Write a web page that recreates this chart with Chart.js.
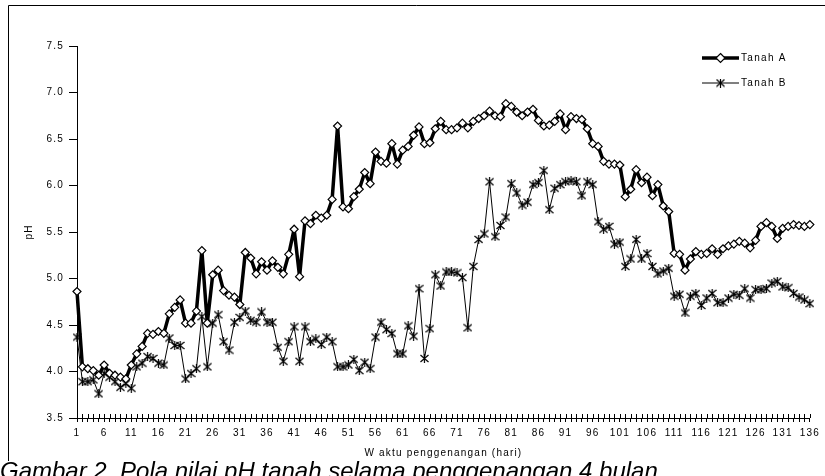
<!DOCTYPE html>
<html>
<head>
<meta charset="utf-8">
<script src="https://cdn.jsdelivr.net/npm/chart.js@4.4.1/dist/chart.umd.min.js"></script>
<style>
  html, body { margin: 0; padding: 0; background: #fff; overflow: hidden; }
  #wrap { position: relative; width: 825px; height: 476px; }
  #caption {
    position: absolute; left: 0; top: 461px;
    font: italic 24px "Liberation Sans", Arial, sans-serif;
    line-height: 20px; white-space: nowrap; background: #fff; color: #000;
  }
</style>
</head>
<body>
<div id="wrap">
  <canvas id="results" width="825" height="476"></canvas>
  <div id="caption">Gambar 2. Pola nilai pH tanah selama penggenangan 4 bulan</div>
</div>
<script>
const ctx = document.getElementById("results");

// days of flooding (categories)
const days = Array.from({ length: 136 }, (_, i) => String(i + 1));

const tanahA = [
  4.86, 4.05, 4.03, 4.01, 3.96, 4.07, 3.98, 3.96, 3.94, 3.92,
  4.07, 4.19, 4.27, 4.41, 4.40, 4.43, 4.41, 4.62, 4.69, 4.77,
  4.52, 4.52, 4.65, 5.30, 4.52, 5.04, 5.09, 4.87, 4.82, 4.80,
  4.72, 5.28, 5.22, 5.05, 5.18, 5.09, 5.19, 5.12, 5.05, 5.26,
  5.53, 5.02, 5.62, 5.59, 5.68, 5.65, 5.68, 5.85, 6.64, 5.77,
  5.75, 5.88, 5.96, 6.14, 6.02, 6.36, 6.26, 6.24, 6.45, 6.23,
  6.38, 6.42, 6.54, 6.63, 6.45, 6.46, 6.61, 6.69, 6.60, 6.60,
  6.62, 6.67, 6.62, 6.69, 6.72, 6.75, 6.80, 6.75, 6.74, 6.88,
  6.85, 6.79, 6.75, 6.79, 6.82, 6.70, 6.64, 6.65, 6.69, 6.77,
  6.60, 6.74, 6.72, 6.71, 6.61, 6.45, 6.42, 6.26, 6.23, 6.23,
  6.22, 5.88, 5.96, 6.17, 6.03, 6.09, 5.89, 6.01, 5.78, 5.72,
  5.27, 5.26, 5.09, 5.21, 5.29, 5.26, 5.27, 5.32, 5.26, 5.32,
  5.35, 5.37, 5.40, 5.38, 5.33, 5.41, 5.56, 5.60, 5.56, 5.43,
  5.54, 5.56, 5.58, 5.57, 5.56, 5.58,
];

const tanahB = [
  4.37, 3.89, 3.89, 3.91, 3.76, 3.98, 3.94, 3.89, 3.83, 3.87,
  3.82, 4.05, 4.09, 4.16, 4.14, 4.09, 4.07, 4.36, 4.28, 4.28,
  3.92, 3.98, 4.03, 4.59, 4.05, 4.52, 4.61, 4.32, 4.23, 4.53,
  4.58, 4.65, 4.55, 4.53, 4.64, 4.53, 4.53, 4.26, 4.11, 4.32,
  4.48, 4.11, 4.48, 4.32, 4.35, 4.29, 4.37, 4.32, 4.05, 4.05,
  4.07, 4.13, 4.01, 4.10, 4.03, 4.37, 4.53, 4.45, 4.41, 4.19,
  4.19, 4.49, 4.38, 4.89, 4.14, 4.46, 5.04, 4.92, 5.07, 5.07,
  5.06, 5.01, 4.47, 5.13, 5.42, 5.48, 6.04, 5.45, 5.57, 5.66,
  6.02, 5.92, 5.79, 5.82, 6.01, 6.03, 6.16, 5.74, 5.97, 6.01,
  6.04, 6.05, 6.04, 5.89, 6.04, 6.01, 5.61, 5.53, 5.56, 5.37,
  5.39, 5.13, 5.21, 5.42, 5.21, 5.27, 5.13, 5.05, 5.08, 5.11,
  4.81, 4.83, 4.63, 4.81, 4.84, 4.71, 4.79, 4.84, 4.74, 4.74,
  4.79, 4.83, 4.82, 4.89, 4.79, 4.88, 4.88, 4.89, 4.95, 4.97,
  4.91, 4.90, 4.84, 4.80, 4.77, 4.73,
];

const seriesNames = ["Tanah A", "Tanah B"];
const yMin = 3.5;
const yMax = 7.5;
const yStep = 0.5;

const FONT = '"Liberation Sans", Arial, sans-serif';

// excel-like star marker: an x with a vertical bar
function starMarker() {
  const c = document.createElement("canvas");
  c.width = 9;
  c.height = 9;
  const g = c.getContext("2d");
  g.strokeStyle = "#000";
  g.lineWidth = 1.2;
  g.beginPath();
  g.moveTo(0.5, 1); g.lineTo(8.5, 8);
  g.moveTo(8.5, 1); g.lineTo(0.5, 8);
  g.moveTo(4.5, 0); g.lineTo(4.5, 9);
  g.stroke();
  return c;
}
const star = starMarker();

const textSpacing = {
  id: "textSpacing",
  beforeLayout(chart) { chart.ctx.letterSpacing = "1.2px"; },
  beforeDraw(chart) { chart.ctx.letterSpacing = "1.2px"; },
};

const frame = {
  id: "frame",
  beforeDraw(chart) {
    const g = chart.ctx;
    g.save();
    g.strokeStyle = "#000";
    g.lineWidth = 1;
    g.beginPath();
    g.moveTo(8.5, 476);
    g.lineTo(8.5, 5.5);
    g.lineTo(825, 5.5);
    g.stroke();
    g.restore();
  },
};

// cross tick marks on the x axis (upper half; the lower half comes from the grid)
const crossTicks = {
  id: "crossTicks",
  afterDraw(chart) {
    const x = chart.scales.x;
    const g = chart.ctx;
    g.save();
    g.strokeStyle = "#000";
    g.lineWidth = 1;
    g.beginPath();
    x.ticks.forEach((t, i) => {
      const px = Math.round(x.getPixelForTick(i)) + 0.5;
      g.moveTo(px, x.top - 4);
      g.lineTo(px, x.top);
    });
    g.stroke();
    g.restore();
  },
};

const legendBox = {
  id: "legendBox",
  afterDraw(chart) {
    const g = chart.ctx;
    g.save();
    g.letterSpacing = "1.3px";
    g.font = "10px " + FONT;
    g.fillStyle = "#000";
    g.textBaseline = "middle";
    chart.data.datasets.forEach((ds, i) => {
      const y = 58 + i * 25;
      g.strokeStyle = "#000";
      g.lineWidth = ds.borderWidth;
      g.beginPath();
      g.moveTo(702, y);
      g.lineTo(739, y);
      g.stroke();
      if (ds.pointStyle === "rectRot") {
        g.lineWidth = ds.pointBorderWidth;
        g.fillStyle = "#fff";
        g.beginPath();
        g.moveTo(720.5, y - 4.5);
        g.lineTo(725, y);
        g.lineTo(720.5, y + 4.5);
        g.lineTo(716, y);
        g.closePath();
        g.fill();
        g.stroke();
        g.fillStyle = "#000";
      } else {
        g.drawImage(ds.pointStyle, 716, y - 4.5);
      }
      g.fillText(ds.label, 741, y);
    });
    g.restore();
  },
};

new Chart(ctx, {
  type: "line",
  data: {
    labels: days,
    datasets: [
      {
        label: seriesNames[0],
        data: tanahA,
        borderColor: "#000",
        borderWidth: 3.5,
        borderJoinStyle: "round",
        pointStyle: "rectRot",
        pointRadius: 4,
        pointBackgroundColor: "#fff",
        pointBorderColor: "#000",
        pointBorderWidth: 1.2,
        tension: 0,
      },
      {
        label: seriesNames[1],
        data: tanahB,
        borderColor: "#000",
        borderWidth: 1,
        borderJoinStyle: "round",
        pointStyle: star,
        pointRadius: 4,
        tension: 0,
      },
    ],
  },
  options: {
    responsive: false,
    animation: false,
    layout: { padding: { left: 0, top: 46, right: 8, bottom: 0 } },
    plugins: {
      legend: { display: false },
      tooltip: { enabled: false },
    },
    scales: {
      x: {
        type: "category",
        offset: false,
        afterFit(scale) { scale.height = 58; },
        grid: {
          display: true,
          drawOnChartArea: false,
          drawTicks: true,
          tickLength: 4,
          color: "#000",
        },
        border: { display: true, color: "#000", width: 1 },
        ticks: {
          autoSkip: false,
          maxRotation: 0,
          padding: 5,
          color: "#000",
          font: { family: FONT, size: 10 },
          callback: function (value, index) {
            return index % 5 === 0 ? days[index] : "";
          },
        },
        title: {
          display: true,
          text: "W aktu penggenangan (hari)",
          color: "#000",
          font: { family: FONT, size: 10 },
          padding: { top: 0, bottom: 17 },
        },
      },
      y: {
        min: yMin,
        max: yMax,
        afterFit(scale) { scale.width = 77; },
        grid: {
          display: true,
          drawOnChartArea: false,
          drawTicks: true,
          tickLength: 8,
          color: "#000",
        },
        border: { display: true, color: "#000", width: 1 },
        ticks: {
          stepSize: yStep,
          padding: 5,
          color: "#000",
          font: { family: FONT, size: 10 },
          callback: function (value) {
            return value.toFixed(1);
          },
        },
        title: {
          display: true,
          text: "pH",
          color: "#000",
          font: { family: FONT, size: 10 },
          padding: { top: 23, bottom: 0 },
        },
      },
    },
  },
  plugins: [textSpacing, frame, crossTicks, legendBox],
});
</script>
</body>
</html>
